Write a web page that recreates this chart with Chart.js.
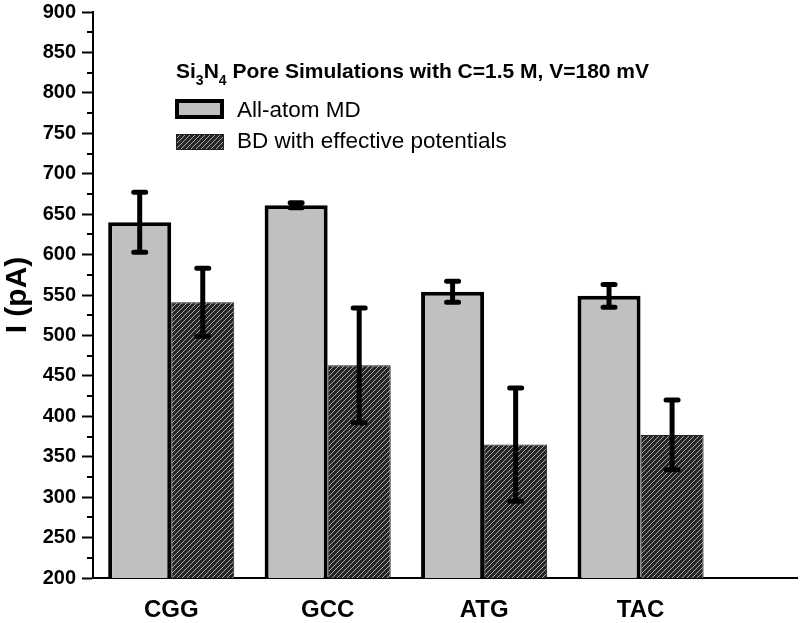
<!DOCTYPE html>
<html>
<head>
<meta charset="utf-8">
<script src="https://cdn.jsdelivr.net/npm/chart.js@4/dist/chart.umd.min.js"></script>
<style>
  html, body { margin: 0; padding: 0; background: #fff; }
  #wrap { width: 800px; height: 623px; }
</style>
</head>
<body>
<div id="wrap"><canvas id="chart" width="800" height="623"></canvas></div>
<script>
/* Si3N4 pore currents: all-atom MD vs BD with effective potentials */

const categories = ['CGG', 'GCC', 'ATG', 'TAC'];
const mdValues = [640, 661, 554, 549];
const mdErrors = [37, 3, 13, 14];
const bdValues = [541, 463, 365, 377];
const bdErrors = [42, 71, 70, 43];
const yTicks = [200, 250, 300, 350, 400, 450, 500, 550, 600, 650, 700, 750, 800, 850, 900];

const FONT = "'Liberation Sans', Arial, sans-serif";

// diagonal hatch for the BD bars
function makeHatch() {
  const c = document.createElement('canvas');
  c.width = 5; c.height = 5;
  const g = c.getContext('2d');
  g.fillStyle = '#262626';
  g.fillRect(0, 0, 5, 5);
  g.strokeStyle = '#a8a8a8';
  g.lineWidth = 1;
  g.beginPath();
  g.moveTo(-1, 6); g.lineTo(6, -1);
  g.moveTo(-1, 1); g.lineTo(1, -1);
  g.moveTo(4, 6); g.lineTo(6, 4);
  g.stroke();
  return g.createPattern(c, 'repeat');
}
const HATCH = makeHatch();

// minor ticks on the y axis (every 25 between labelled ticks)
const minorTicks = {
  id: 'minorTicks',
  afterDraw(chart) {
    const y = chart.scales.y, ctx = chart.ctx, x0 = chart.chartArea.left;
    ctx.save();
    ctx.strokeStyle = '#000';
    ctx.lineWidth = 2;
    for (let i = 0; i < yTicks.length - 1; i++) {
      const v = (yTicks[i] + yTicks[i + 1]) / 2;
      const py = Math.round(y.getPixelForValue(v));
      ctx.beginPath();
      ctx.moveTo(x0 - 6, py); ctx.lineTo(x0, py);
      ctx.stroke();
    }
    ctx.restore();
  }
};

// symmetric error bars with rounded caps
const errorBars = {
  id: 'errorBars',
  afterDatasetsDraw(chart) {
    const ctx = chart.ctx, y = chart.scales.y;
    const errs = [mdErrors, bdErrors];
    ctx.save();
    ctx.strokeStyle = '#000';
    chart.data.datasets.forEach((ds, di) => {
      chart.getDatasetMeta(di).data.forEach((bar, i) => {
        const v = ds.data[i].y, e = errs[di][i];
        const top = y.getPixelForValue(v + e), bot = y.getPixelForValue(v - e);
        ctx.lineCap = 'butt';
        ctx.lineWidth = 5;
        ctx.beginPath();
        ctx.moveTo(bar.x, top); ctx.lineTo(bar.x, bot);
        ctx.stroke();
        ctx.lineCap = 'round';
        ctx.lineWidth = 5;
        ctx.beginPath();
        ctx.moveTo(bar.x - 6, top); ctx.lineTo(bar.x + 6, top);
        ctx.moveTo(bar.x - 6, bot); ctx.lineTo(bar.x + 6, bot);
        ctx.stroke();
      });
    });
    ctx.restore();
  }
};

// legend block with the subscripted title
const legendBlock = {
  id: 'legendBlock',
  afterDraw(chart) {
    const ctx = chart.ctx;
    ctx.save();
    ctx.fillStyle = '#000';
    ctx.textBaseline = 'alphabetic';
    let x = 176;
    const base = 78;
    const parts = [['Si', 0], ['3', 1], ['N', 0], ['4', 1], [' Pore Simulations with C=1.5 M, V=180 mV', 0]];
    parts.forEach(([t, sub]) => {
      ctx.font = sub ? `bold 14px ${FONT}` : `bold 21px ${FONT}`;
      ctx.fillText(t, x, sub ? base + 7 : base);
      x += ctx.measureText(t).width;
    });

    const ds = chart.data.datasets;
    // MD box
    ctx.fillStyle = ds[0].backgroundColor;
    ctx.fillRect(177, 101, 45, 16);
    ctx.lineWidth = 4;
    ctx.strokeStyle = '#000';
    ctx.strokeRect(177, 101, 45, 16);
    // BD box
    ctx.fillStyle = ds[1].backgroundColor;
    ctx.fillRect(176, 134, 48, 16);
    ctx.lineWidth = 1;
    ctx.strokeStyle = '#222';
    ctx.strokeRect(176.5, 134.5, 47, 15);

    ctx.fillStyle = '#000';
    ctx.font = `22.5px ${FONT}`;
    ctx.fillText(ds[0].label, 237, 117);
    ctx.fillText(ds[1].label, 237, 148);
    ctx.restore();
  }
};

new Chart(document.getElementById('chart'), {
  type: 'bar',
  data: {
    datasets: [{
      label: 'All-atom MD',
      data: categories.map((c, i) => ({ x: i, y: mdValues[i] })),
      backgroundColor: '#c0c0c0',
      borderColor: '#000',
      borderWidth: 4,
      borderSkipped: 'bottom'
    }, {
      label: 'BD with effective potentials',
      data: categories.map((c, i) => ({ x: i, y: bdValues[i] })),
      backgroundColor: HATCH,
      borderColor: '#222',
      borderWidth: 1,
      borderSkipped: 'bottom'
    }]
  },
  options: {
    responsive: false,
    animation: false,
    events: [],
    categoryPercentage: 0.806,
    barPercentage: 1.0,
    layout: { padding: { top: 12, right: 3, left: 0, bottom: 0 } },
    plugins: { legend: { display: false }, tooltip: { enabled: false } },
    scales: {
      x: {
        type: 'linear',
        offset: false,
        min: -0.5,
        max: 4,
        afterBuildTicks: s => { s.ticks = categories.map((c, i) => ({ value: i })); },
        afterFit: s => { s.height = 45; s.paddingLeft = 0; s.paddingRight = 0; },
        grid: { display: true, drawOnChartArea: false, drawTicks: false },
        border: { color: '#000', width: 2 },
        ticks: {
          padding: 18,
          color: '#000',
          font: { family: FONT, size: 24, weight: 'bold' },
          callback: v => categories[v]
        }
      },
      y: {
        min: 200,
        max: 900,
        afterBuildTicks: s => { s.ticks = yTicks.map(v => ({ value: v })); },
        afterFit: s => { s.width = 93; s.paddingTop = 0; s.paddingBottom = 0; },
        grid: { drawOnChartArea: false, tickLength: 11, tickWidth: 2, tickColor: '#000' },
        border: { color: '#000', width: 2 },
        ticks: {
          padding: 6,
          color: '#000',
          font: { family: FONT, size: 20, weight: 'bold' }
        },
        title: {
          display: true,
          text: 'I (pA)',
          color: '#000',
          padding: { top: 0, bottom: 0 },
          font: { family: FONT, size: 30, weight: 'bold' }
        }
      }
    }
  },
  plugins: [minorTicks, errorBars, legendBlock]
});
</script>
</body>
</html>
